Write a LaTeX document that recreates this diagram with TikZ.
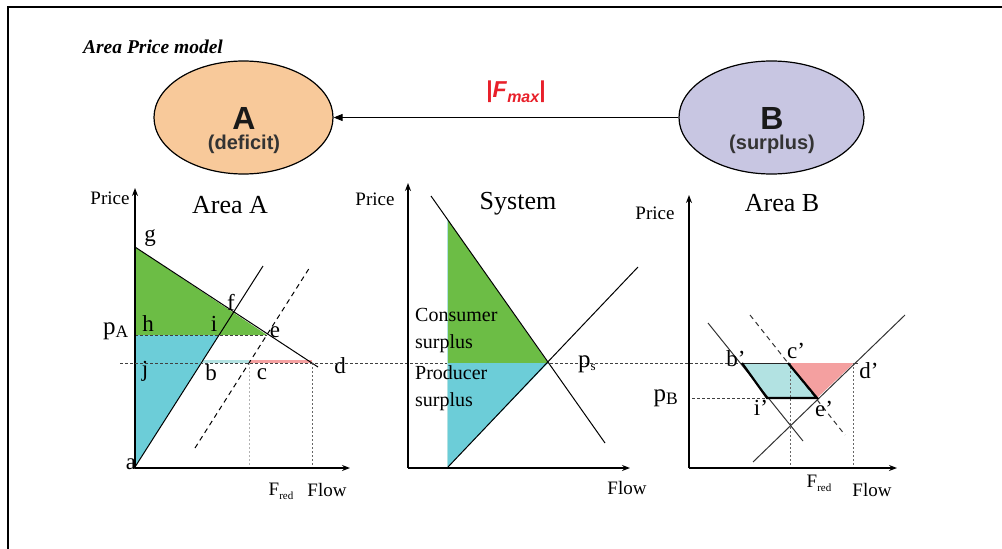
\documentclass[tikz,border=0pt]{standalone}
\usepackage{fontspec}
\setmainfont{Liberation Serif}
\setsansfont{Liberation Sans}
\usetikzlibrary{arrows.meta,shapes.geometric}
\definecolor{cgreen}{HTML}{6CBD45}
\definecolor{ccyan}{HTML}{6CCDD8}
\definecolor{clcyan}{HTML}{B2E2E2}
\definecolor{cpink}{HTML}{F4A0A0}
\definecolor{corange}{HTML}{F8C99A}
\definecolor{clav}{HTML}{C8C6E2}
\definecolor{cred}{HTML}{E8202A}
\definecolor{ctext}{HTML}{333333}
\begin{document}
\begin{tikzpicture}[x=1pt,y=-1pt,
  axis/.style={line width=1.6pt,-{Stealth[length=8pt,width=6pt]}},
  curve/.style={line width=1pt},
  dcurve/.style={line width=1pt,dash pattern=on 5pt off 4pt},
  hguide/.style={line width=0.7pt,dash pattern=on 3pt off 2pt,black!75},
  vguide/.style={line width=0.7pt,dash pattern=on 2pt off 2pt,black!60},
  lbl/.style={font=\fontsize{23}{23}\selectfont,inner sep=0pt},
  small/.style={font=\fontsize{19}{19}\selectfont,inner sep=0pt},
  title/.style={font=\fontsize{26}{26}\selectfont,inner sep=0pt},
  ell/.style={ellipse,draw,line width=1.2pt,minimum width=179pt,minimum height=113pt,inner sep=0pt},
  elltxt/.style={font=\sffamily\bfseries\fontsize{32}{32}\selectfont,text=black!90,inner sep=0pt},
  ellsub/.style={font=\sffamily\bfseries\fontsize{20}{20}\selectfont,text=ctext,inner sep=0pt},
  fred/.style={inner sep=0pt,font=\fontsize{19}{19}\selectfont}
]
\useasboundingbox (0,0) rectangle (1002,549);
% frame
\draw[line width=2pt] (8,549) -- (8,7) -- (1002,7);
\node[inner sep=0pt,font=\bfseries\itshape\fontsize{19.5}{19.5}\selectfont] (model) at (153,47) {Area Price model};

% top ellipses
\node[ell,fill=corange] (A) at (243.5,117.5) {};
\node[ell,fill=clav,minimum width=185pt] (B) at (771.5,117.5) {};
\node[elltxt] (Alab) at (244,118) {A};
\node[ellsub] (Asub) at (244,144) {(deficit)};
\node[elltxt] (Blab) at (772,118) {B};
\node[ellsub] (Bsub) at (772,144) {(surplus)};
\draw[line width=1pt,-{Triangle[length=9pt,width=7pt]}] (B) -- (A);
\node[inner sep=0pt,text=cred,font=\sffamily\bfseries\fontsize{23}{23}\selectfont] (fmax) at (516,92)
  {|\textit{F}\raisebox{-5pt}{\fontsize{16}{16}\selectfont\itshape max}|};

% ================= Area A =================
\coordinate (a) at (135,467);
\coordinate (g) at (135,247);
\coordinate (h) at (135,335);
\coordinate (j) at (135,363);
\coordinate (i) at (219,335);
\coordinate (e) at (267,335);
\coordinate (b) at (201,363);
\coordinate (c) at (249,363);
\coordinate (d) at (312,363);
\coordinate (dend) at (318,367);
\coordinate (sAend) at (263,266);
\coordinate (dsA1) at (195,448);
\coordinate (dsA2) at (310,267);
\coordinate (oA) at (135,468);
\coordinate (yA) at (135,188);
\coordinate (xA) at (350,468);
\coordinate (cbot) at (249,468);
\coordinate (dbot) at (312,468);
\fill[cgreen] (g) -- (e) -- (h) -- cycle;
\fill[ccyan] (h) -- (i) -- (a) -- cycle;
\fill[clcyan] (201,360) rectangle (249,363);
\fill[cpink] (249,359.5) rectangle (312,363);
\draw[hguide] (h) -- (e);
\draw[curve] (g) -- (dend);
\draw[curve] (a) -- (sAend);
\draw[dcurve] (dsA1) -- (dsA2);
\draw[vguide,black!30] (c) -- (cbot);
\draw[vguide] (d) -- (dbot);
\draw[axis] (oA) -- (yA);
\draw[axis] (oA) -- (xA);
\node[small] (pA1) at (110,198) {Price};
\node[title] (tA) at (230,205) {Area A};
\node[lbl] (lg) at (150,238) {g};
\node[lbl] (lf) at (231,302) {f};
\node[lbl,font=\fontsize{25}{25}\selectfont] (lpA) at (116,331) {p\textsubscript{A}};
\node[lbl] (lh) at (148,324) {h};
\node[lbl] (li) at (214,324) {i};
\node[lbl] (le) at (275,332) {e};
\node[lbl] (lj) at (145,371) {j};
\node[lbl] (lb) at (211,373) {b};
\node[lbl] (lc) at (262,374) {c};
\node[lbl] (ld) at (340,366) {d};
\node[lbl] (la) at (131,464) {a};
\node[fred] (fredA) at (281,491) {F\raisebox{-4pt}{\fontsize{11}{11}\selectfont red}};
\node[small] (flowA) at (327,490) {Flow};

% common dashed line
\draw[hguide] (120,363) -- (858,363);

% ================= System =================
\coordinate (oS) at (408,468);
\coordinate (yS) at (408,183);
\coordinate (xS) at (630,468);
\coordinate (dS1) at (431,196);
\coordinate (dS2) at (605,443);
\coordinate (sS1) at (448,467);
\coordinate (sS2) at (638,267);
\coordinate (ps) at (548,363);
\coordinate (gS) at (448,220);
\coordinate (hS) at (448,363);
\fill[cgreen] (gS) -- (ps) -- (hS) -- cycle;
\fill[ccyan] (hS) -- (ps) -- (sS1) -- cycle;
\draw[clcyan,line width=0.8pt] (447,220) -- (447,467);
\draw[curve] (dS1) -- (dS2);
\draw[curve] (sS1) -- (sS2);
\draw[axis] (oS) -- (yS);
\draw[axis] (oS) -- (xS);
\node[small] (pS) at (375,199) {Price};
\node[title] (tS) at (518,204) {System};
\node[small,anchor=west,align=left,font=\fontsize{20}{27}\selectfont] (cons) at (415,331) {Consumer\\surplus};
\node[small,anchor=west,align=left,font=\fontsize{20}{27}\selectfont] (prod) at (415,388) {Producer\\surplus};
\node[lbl,font=\fontsize{25}{25}\selectfont] (lps) at (587,364) {p\raisebox{-3pt}{\fontsize{13}{13}\selectfont s}};
\node[small] (flowS) at (627,488) {Flow};

% ================= Area B =================
\coordinate (oB) at (689,468);
\coordinate (yB) at (689,195);
\coordinate (xB) at (897,468);
\coordinate (bB) at (742,363);
\coordinate (cB) at (788,363);
\coordinate (dB) at (854,363);
\coordinate (eB) at (817,398);
\coordinate (iB) at (767,398);
\coordinate (pBl) at (692,398);
\coordinate (dmB1) at (708,323);
\coordinate (dmB2) at (803,441);
\coordinate (ddB1) at (750,315);
\coordinate (ddB2) at (845,435);
\coordinate (sB1) at (753,462);
\coordinate (sB2) at (905,315);
\coordinate (cBbot) at (790,468);
\coordinate (dBbot) at (853,468);
\fill[clcyan] (bB) -- (cB) -- (eB) -- (iB) -- cycle;
\fill[cpink] (cB) -- (dB) -- (eB) -- cycle;
\draw[hguide] (pBl) -- (iB);
\draw[vguide] (790,363) -- (cBbot);
\draw[vguide] (853,363) -- (dBbot);
\draw[curve,black!80] (dmB1) -- (dmB2);
\draw[dcurve,black!80] (ddB1) -- (ddB2);
\draw[curve,black!80] (sB1) -- (sB2);
\draw[line width=1pt,black!85] (bB) -- (cB);
\draw[line width=2.2pt] (cB) -- (eB) -- (iB) -- (bB);
\draw[axis] (oB) -- (yB);
\draw[axis] (oB) -- (xB);
\node[small] (pBp) at (655,213) {Price};
\node[title] (tB) at (782,203) {Area B};
\node[lbl] (lb2) at (736,359) {b’};
\node[lbl] (lc2) at (796,351) {c’};
\node[lbl] (ld2) at (869,371) {d’};
\node[lbl,font=\fontsize{25}{25}\selectfont] (lpB) at (666,398) {p\textsubscript{B}};
\node[lbl] (li2) at (761,408) {i’};
\node[lbl] (le2) at (824,409) {e’};
\node[fred] (fredB) at (819,483) {F\raisebox{-4pt}{\fontsize{11}{11}\selectfont red}};
\node[small] (flowB) at (872,490) {Flow};
\end{tikzpicture}
\end{document}
